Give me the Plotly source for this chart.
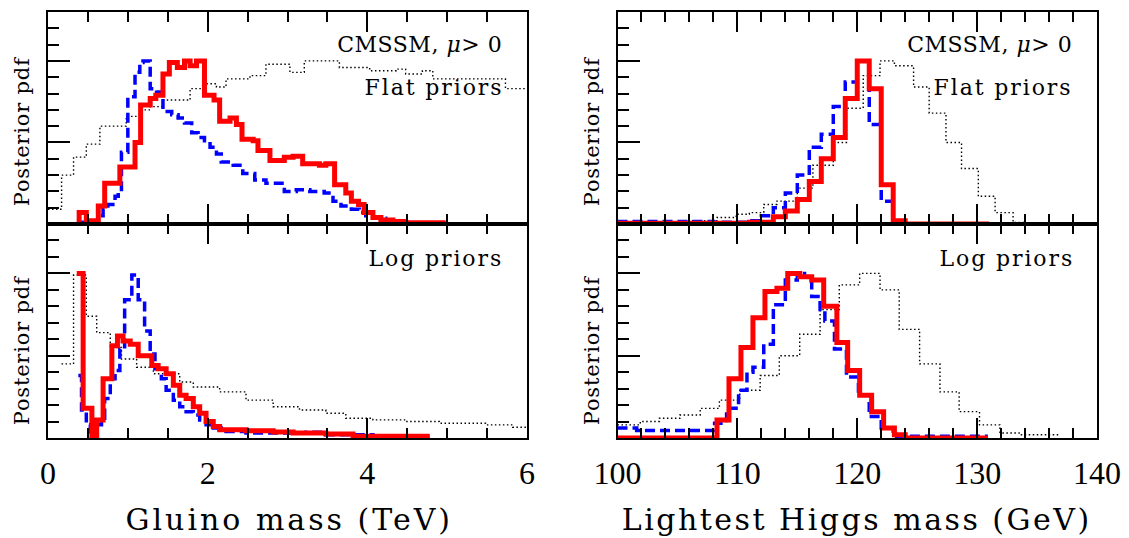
import plotly.graph_objects as go

# ---------------- data (step histograms: left edge of each step, height) ----------------
# Gluino mass (TeV), flat priors
gl_flat_red_x = [0.39, 0.39, 0.48, 0.63, 0.71, 0.90, 1.09, 1.16, 1.28, 1.35, 1.44, 1.52, 1.62, 1.71, 1.78,
                 1.86, 1.96, 2.08, 2.15, 2.28, 2.36, 2.43, 2.57, 2.63, 2.78, 2.96, 3.07, 3.19, 3.40, 3.48,
                 3.59, 3.73, 3.80, 3.89, 3.96, 4.07, 4.17, 4.32, 4.48, 4.98]
gl_flat_red_y = [0.0, 0.07, 0.02, 0.11, 0.25, 0.35, 0.50, 0.73, 0.77, 0.79, 0.92, 0.99, 0.96, 1.00, 0.97,
                 1.00, 0.79, 0.76, 0.63, 0.65, 0.61, 0.52, 0.51, 0.45, 0.39, 0.41, 0.415, 0.37, 0.36, 0.37,
                 0.24, 0.19, 0.14, 0.12, 0.07, 0.04, 0.025, 0.016, 0.008, 0.008]

gl_flat_blue_x = [0.39, 0.50, 0.63, 0.69, 0.75, 0.84, 0.88, 0.92, 1.00, 1.09, 1.15, 1.19, 1.28, 1.36, 1.44,
                  1.55, 1.63, 1.71, 1.80, 1.88, 1.96, 2.03, 2.11, 2.17, 2.32, 2.44, 2.59, 2.73, 2.96, 3.11,
                  3.28, 3.46, 3.57, 3.67, 3.80, 3.90, 3.98, 4.07, 4.23, 4.48, 4.98]
gl_flat_blue_y = [0.01, 0.005, 0.05, 0.09, 0.12, 0.17, 0.19, 0.44, 0.78, 0.93, 0.99, 1.00, 0.83, 0.81, 0.69,
                  0.67, 0.65, 0.62, 0.56, 0.53, 0.51, 0.47, 0.43, 0.38, 0.36, 0.31, 0.27, 0.25, 0.20, 0.21,
                  0.20, 0.19, 0.14, 0.11, 0.09, 0.07, 0.05, 0.035, 0.02, 0.008, 0.008]

gl_flat_dot_x = [0.0, 0.17, 0.32, 0.48, 0.65, 0.98, 1.15, 1.28, 1.44, 1.78, 1.94, 2.11, 2.23, 2.53, 2.73,
                 3.03, 3.21, 3.65, 4.03, 4.36, 4.48, 4.69, 4.82, 5.73, 6.0]
gl_flat_dot_y = [0.09, 0.30, 0.41, 0.49, 0.60, 0.66, 0.70, 0.72, 0.76, 0.83, 0.86, 0.84, 0.89, 0.91, 0.98,
                 0.93, 1.00, 0.96, 0.94, 0.95, 0.92, 0.94, 0.89, 0.83, 0.83]

# Gluino mass (TeV), log priors
gl_log_red_x = [0.36, 0.44, 0.55, 0.61, 0.69, 0.80, 0.87, 0.94, 1.03, 1.13, 1.30, 1.38, 1.48, 1.57, 1.65,
                1.73, 1.82, 1.90, 1.98, 2.07, 2.15, 2.48, 2.82, 3.07, 3.48, 3.82, 4.78]
gl_log_red_y = [1.00, 0.18, 0.01, 0.11, 0.36, 0.56, 0.62, 0.59, 0.57, 0.50, 0.44, 0.42, 0.39, 0.32, 0.26,
                0.24, 0.19, 0.15, 0.10, 0.07, 0.05, 0.044, 0.036, 0.03, 0.024, 0.01, 0.01]

gl_log_blue_x = [0.38, 0.42, 0.48, 0.53, 0.61, 0.67, 0.71, 0.78, 0.84, 0.90, 0.96, 1.05, 1.13, 1.21, 1.28,
                 1.34, 1.42, 1.48, 1.57, 1.65, 1.73, 1.82, 1.90, 1.98, 2.07, 2.23, 2.48, 3.23, 3.48, 4.07, 4.78]
gl_log_blue_y = [0.38, 0.17, 0.08, 0.01, 0.08, 0.12, 0.24, 0.36, 0.41, 0.54, 0.84, 0.99, 0.84, 0.65, 0.51,
                 0.42, 0.36, 0.29, 0.23, 0.19, 0.16, 0.14, 0.11, 0.08, 0.06, 0.04, 0.03, 0.035, 0.02, 0.01, 0.01]

gl_log_dot_x = [0.17, 0.32, 0.48, 0.61, 0.78, 0.92, 1.11, 1.32, 1.65, 1.82, 2.15, 2.48, 2.82, 3.15, 3.48,
                3.73, 4.07, 4.48, 4.90, 5.48, 5.82, 6.0]
gl_log_dot_y = [0.45, 0.99, 0.74, 0.64, 0.55, 0.48, 0.43, 0.39, 0.34, 0.31, 0.28, 0.23, 0.19, 0.17, 0.15,
                0.12, 0.11, 0.10, 0.09, 0.08, 0.065, 0.065]

# Lightest Higgs mass (GeV), flat priors
mh_flat_red_x = [100.0, 111.0, 113.0, 114.0, 115.0, 116.0, 117.0, 118.0, 119.0, 120.0, 121.0, 122.0, 123.0,
                 124.0, 131.0]
mh_flat_red_y = [0.005, 0.01, 0.045, 0.08, 0.15, 0.26, 0.40, 0.53, 0.77, 1.00, 0.83, 0.24, 0.02, 0.0, 0.0]

mh_flat_blue_x = [100.0, 108.0, 111.0, 112.0, 113.0, 114.0, 115.0, 116.0, 117.0, 118.0, 119.0, 120.0, 121.0,
                  122.0, 123.0, 131.0]
mh_flat_blue_y = [0.015, 0.01, 0.02, 0.05, 0.10, 0.19, 0.30, 0.47, 0.55, 0.72, 0.87, 1.00, 0.61, 0.14, 0.0, 0.0]

mh_flat_dot_x = [100.0, 105.5, 108.3, 109.9, 111.0, 112.2, 113.3, 115.0, 116.3, 118.0, 119.1, 120.5, 121.9,
                 123.1, 124.7, 126.0, 127.4, 128.7, 130.1, 131.5, 133.0, 134.1, 135.5]
mh_flat_dot_y = [0.01, 0.02, 0.04, 0.06, 0.07, 0.12, 0.14, 0.22, 0.36, 0.50, 0.71, 0.91, 1.00, 0.97, 0.84,
                 0.68, 0.50, 0.34, 0.17, 0.07, 0.01, 0.0, 0.0]

# Lightest Higgs mass (GeV), log priors
mh_log_red_x = [100.0, 108.3, 109.3, 110.3, 111.3, 112.3, 113.3, 114.2, 115.2, 116.2, 117.2, 118.3, 119.2,
                120.2, 121.2, 122.2, 123.1, 124.0, 130.9]
mh_log_red_y = [0.0, 0.11, 0.36, 0.55, 0.73, 0.89, 0.91, 1.00, 0.98, 0.96, 0.80, 0.58, 0.41, 0.26, 0.16,
                0.06, 0.02, 0.0, 0.0]

mh_log_blue_x = [100.0, 101.6, 108.1, 109.1, 110.1, 110.8, 111.3, 112.2, 113.0, 114.0, 115.0, 115.6, 116.2,
                 116.9, 117.3, 118.1, 119.1, 120.1, 121.0, 122.0, 123.0, 130.9]
mh_log_blue_y = [0.06, 0.045, 0.09, 0.18, 0.29, 0.40, 0.43, 0.57, 0.81, 0.96, 1.00, 0.98, 0.86, 0.78, 0.71,
                 0.54, 0.37, 0.26, 0.13, 0.06, 0.01, 0.01]

mh_log_dot_x = [100.0, 101.9, 103.5, 105.2, 106.9, 108.5, 110.2, 111.9, 113.5, 115.2, 116.9, 118.5, 120.2,
                121.9, 123.5, 125.2, 126.9, 128.5, 130.2, 131.9, 133.5, 136.9]
mh_log_dot_y = [0.08, 0.10, 0.12, 0.14, 0.18, 0.23, 0.29, 0.38, 0.50, 0.63, 0.78, 0.93, 1.00, 0.90, 0.66,
                0.45, 0.28, 0.16, 0.08, 0.03, 0.02, 0.02]

gl_ticks = [0, 2, 4, 6]
mh_ticks = [100, 110, 120, 130, 140]

# ---------------- figure ----------------
W, H = 1129, 538
FONT = "DejaVu Serif"
TICKFONT = "Liberation Serif"

def px_x(p):
    return p / W

def px_y(p):
    return 1 - p / H

left_dom = [px_x(48), px_x(527)]
right_dom = [px_x(617.5), px_x(1097)]
top_dom = [px_y(224), px_y(12)]
bot_dom = [px_y(438), px_y(224)]

RED = dict(color="#ff0000", width=5)
BLUE = dict(color="#0000ff", width=3.5, dash="10px,5px")
DOT = dict(color="#000000", width=1.4, dash="1.5px,2.5px")

fig = go.Figure()

panels = [
    ("x", "y", gl_flat_red_x, gl_flat_red_y, gl_flat_blue_x, gl_flat_blue_y, gl_flat_dot_x, gl_flat_dot_y),
    ("x2", "y2", gl_log_red_x, gl_log_red_y, gl_log_blue_x, gl_log_blue_y, gl_log_dot_x, gl_log_dot_y),
    ("x3", "y3", mh_flat_red_x, mh_flat_red_y, mh_flat_blue_x, mh_flat_blue_y, mh_flat_dot_x, mh_flat_dot_y),
    ("x4", "y4", mh_log_red_x, mh_log_red_y, mh_log_blue_x, mh_log_blue_y, mh_log_dot_x, mh_log_dot_y),
]
for xa, ya, rx, ry, bx, by, dx, dy in panels:
    fig.add_trace(go.Scatter(x=dx, y=dy, mode="lines", line=DOT, line_shape="hv",
                             xaxis=xa, yaxis=ya, showlegend=False, hoverinfo="skip"))
    fig.add_trace(go.Scatter(x=bx, y=by, mode="lines", line=BLUE, line_shape="hv",
                             xaxis=xa, yaxis=ya, showlegend=False, hoverinfo="skip"))
    fig.add_trace(go.Scatter(x=rx, y=ry, mode="lines", line=RED, line_shape="hv",
                             xaxis=xa, yaxis=ya, showlegend=False, hoverinfo="skip"))

def xaxis(dom, rng, ticks, minor, anchor, show_labels):
    return dict(domain=dom, range=rng, anchor=anchor, showline=True, mirror="allticks",
                linecolor="black", linewidth=2, ticks="inside", ticklen=20, tickwidth=1.5,
                tickcolor="black", tickvals=ticks, showticklabels=show_labels,
                ticklabelstandoff=6, automargin=False,
                tickfont=dict(family=TICKFONT, size=32, color="black"),
                minor=dict(dtick=minor, tick0=rng[0], ticks="inside", ticklen=10, tickwidth=1.5,
                           tickcolor="black", showgrid=False),
                showgrid=False, zeroline=False, fixedrange=True)

def yaxis(dom, anchor):
    return dict(domain=dom, range=[0, 1.3], anchor=anchor, showline=True, mirror=True,
                linecolor="black", linewidth=2, ticks="inside", ticklen=22, tickwidth=1.5,
                tickcolor="black", tickvals=[0.5, 1.0], showticklabels=False, automargin=False,
                minor=dict(dtick=0.1, tick0=0, ticks="inside", ticklen=11, tickwidth=1.5,
                           tickcolor="black", showgrid=False),
                showgrid=False, zeroline=False, fixedrange=True)

fig.update_layout(
    width=W, height=H, autosize=False,
    margin=dict(l=0, r=0, t=0, b=0, pad=0),
    paper_bgcolor="white", plot_bgcolor="white",
    xaxis=xaxis(left_dom, [0, 6], gl_ticks, 0.5, "y", False),
    yaxis=yaxis(top_dom, "x"),
    xaxis2=xaxis(left_dom, [0, 6], gl_ticks, 0.5, "y2", True),
    yaxis2=yaxis(bot_dom, "x2"),
    xaxis3=xaxis(right_dom, [100, 140], mh_ticks, 2, "y3", False),
    yaxis3=yaxis(top_dom, "x3"),
    xaxis4=xaxis(right_dom, [100, 140], mh_ticks, 2, "y4", True),
    yaxis4=yaxis(bot_dom, "x4"),
)

# text, centre position (px), font size, rotation, extra letter spacing (px)
annots = [
    ("Gluino mass (TeV)", 289, 519, 30, 0, 3.0),
    ("Lightest Higgs mass (GeV)", 856, 519, 30, 0, 2.5),
    ("Posterior pdf", 22, 131, 21, -90, 0.8),
    ("Posterior pdf", 22, 350, 21, -90, 0.8),
    ("Posterior pdf", 592, 131, 21, -90, 0.8),
    ("Posterior pdf", 592, 350, 21, -90, 0.8),
    ("CMSSM, <i>μ</i>> 0", 419.5, 44, 22, 0, 0.5),
    ("Flat priors", 433.5, 88, 22, 0, 1.9),
    ("Log priors", 436, 258, 22, 0, 1.9),
    ("CMSSM, <i>μ</i>> 0", 989, 44, 22, 0, 0.5),
    ("Flat priors", 1002.5, 88, 22, 0, 1.9),
    ("Log priors", 1007, 258, 22, 0, 1.9),
]
for text, cx, cy, size, ang, _sp in annots:
    fig.add_annotation(text=text, x=px_x(cx), y=px_y(cy), xref="paper", yref="paper",
                       xanchor="center", yanchor="middle", showarrow=False, textangle=ang,
                       font=dict(family=FONT, size=size, color="black"))

spacing = [a[5] for a in annots]
post = """
var sp = %s;
document.querySelectorAll('g.annotation').forEach(function(g){
  var i = parseInt(g.getAttribute('data-index'));
  var t = g.querySelector('text.annotation-text');
  if (t && !isNaN(i) && sp[i] !== undefined) { t.style.letterSpacing = sp[i] + 'px'; }
});
""" % str(spacing)

fig.write_html("out.html", post_script=post)
